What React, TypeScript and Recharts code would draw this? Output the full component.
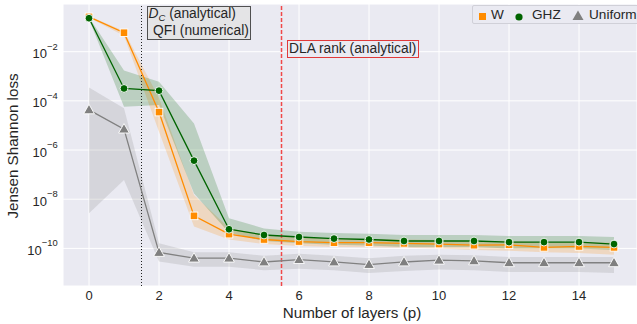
import React from "react";
import {
  ComposedChart,
  Line,
  Area,
  XAxis,
  YAxis,
  CartesianGrid,
  ReferenceLine,
} from "recharts";

const layers = [0, 1, 2, 3, 4, 5, 6, 7, 8, 9, 10, 11, 12, 13, 14, 15];

const wLoss = [2.6e-1, 5.9e-2, 3.5e-5, 2.1e-9, 3.8e-10, 2.3e-10, 1.9e-10, 1.7e-10, 1.7e-10, 1.6e-10, 1.5e-10, 1.35e-10, 1.4e-10, 1.1e-10, 1.2e-10, 1.1e-10];
const wLow = [2.4e-1, 4.5e-2, 5.5e-6, 7.8e-10, 2.3e-10, 1.5e-10, 1.25e-10, 1.15e-10, 1.1e-10, 1.05e-10, 1.0e-10, 8.5e-11, 8e-11, 7e-11, 6.5e-11, 5.5e-11];
const wHigh = [2.8e-1, 7.0e-2, 1.3e-4, 1.5e-8, 6.8e-10, 3.3e-10, 2.8e-10, 2.5e-10, 2.4e-10, 2.3e-10, 2.2e-10, 2.0e-10, 2.0e-10, 1.7e-10, 1.8e-10, 1.7e-10];

const ghzLoss = [2.3e-1, 3.2e-4, 2.6e-4, 3.7e-7, 6.0e-10, 3.5e-10, 2.9e-10, 2.5e-10, 2.3e-10, 2.0e-10, 2.0e-10, 2.0e-10, 1.8e-10, 1.8e-10, 1.8e-10, 1.5e-10];
const ghzLow = [2.1e-1, 5.8e-5, 6.8e-5, 1.7e-8, 4.3e-10, 2.0e-10, 1.6e-10, 1.4e-10, 1.3e-10, 1.15e-10, 1.15e-10, 1.15e-10, 1.0e-10, 1.0e-10, 1.0e-10, 8.5e-11];
const ghzHigh = [2.5e-1, 1.7e-3, 6.0e-4, 1.2e-5, 1.7e-9, 6.5e-10, 4.8e-10, 4.2e-10, 3.9e-10, 3.5e-10, 3.5e-10, 3.5e-10, 3.2e-10, 3.2e-10, 3.2e-10, 2.9e-10];

const uniLoss = [4.3e-5, 7.1e-6, 6.8e-11, 4.0e-11, 4.0e-11, 2.8e-11, 3.5e-11, 2.8e-11, 2.2e-11, 2.8e-11, 3.3e-11, 3.1e-11, 2.6e-11, 2.6e-11, 2.6e-11, 2.6e-11];
const uniLow = [2.7e-9, 6.0e-8, 2.9e-11, 1.8e-11, 1.8e-11, 1.3e-11, 1.5e-11, 1.3e-11, 1.0e-11, 1.2e-11, 1.4e-11, 1.3e-11, 1.1e-11, 1.1e-11, 1.1e-11, 1.0e-11];
const uniHigh = [3.5e-4, 5.0e-5, 1.6e-10, 7.0e-11, 7.0e-11, 5.0e-11, 6.0e-11, 5.0e-11, 4.0e-11, 5.0e-11, 5.5e-11, 5.2e-11, 4.5e-11, 4.5e-11, 4.5e-11, 4.5e-11];

const xTicks = [0, 2, 4, 6, 8, 10, 12, 14];
const yTicks = [1e-10, 1e-8, 1e-6, 1e-4, 1e-2];
const yTickExponents = ["−10", "−8", "−6", "−4", "−2"];

const data = layers.map((p, i) => ({
  p,
  w: wLoss[i],
  ghz: ghzLoss[i],
  uni: uniLoss[i],
  wBand: [wLow[i], wHigh[i]],
  ghzBand: [ghzLow[i], ghzHigh[i]],
  uniBand: [uniLow[i], uniHigh[i]],
}));

const ORANGE = "#ff8c00";
const GREEN = "#006400";
const GRAY = "#808080";
const FONT = "'Liberation Sans', Arial, sans-serif";
const TEXT = "#262626";

const SquareDot = (props: any) => {
  const { cx, cy, index } = props;
  if (cx == null || cy == null) return <g key={`s${index}`} />;
  return <rect key={`s${index}`} x={cx - 3.8} y={cy - 3.8} width={7.6} height={7.6} fill={ORANGE} stroke="#fff" strokeWidth={0.9} />;
};
const CircleDot = (props: any) => {
  const { cx, cy, index } = props;
  if (cx == null || cy == null) return <g key={`c${index}`} />;
  return <circle key={`c${index}`} cx={cx} cy={cy} r={3.9} fill={GREEN} stroke="#fff" strokeWidth={0.9} />;
};
const TriDot = (props: any) => {
  const { cx, cy, index } = props;
  if (cx == null || cy == null) return <g key={`t${index}`} />;
  const pts = `${cx},${cy - 5.6} ${cx - 5.4},${cy + 3.9} ${cx + 5.4},${cy + 3.9}`;
  return <polygon key={`t${index}`} points={pts} fill={GRAY} stroke="#fff" strokeWidth={0.9} />;
};

const YTick = (props: any) => {
  const { y, payload } = props;
  const idx = yTicks.findIndex((t) => Math.abs(Math.log10(t) - Math.log10(payload.value)) < 1e-6);
  const exp = idx >= 0 ? yTickExponents[idx] : "";
  return (
    <text x={57.7} y={y + 6.5} textAnchor="end" fontFamily={FONT} fontSize={13} fill={TEXT}>
      <tspan>10</tspan>
      <tspan dy={-8.5} fontSize={9.4}>{exp}</tspan>
    </text>
  );
};

const XTick = (props: any) => {
  const { x, payload } = props;
  return (
    <text x={x} y={299.7} textAnchor="middle" fontFamily={FONT} fontSize={13} fill={TEXT}>
      {payload.value}
    </text>
  );
};

export default function App() {
  return (
    <div style={{ position: "absolute", left: 0, top: 0, width: 637, height: 324, overflow: "hidden", fontFamily: FONT }}>
      <ComposedChart width={637} height={324} data={data} margin={{ top: 4, right: 0, bottom: 8, left: 0 }}>
        <CartesianGrid fill="#eaeaf2" fillOpacity={1} stroke="#ffffff" strokeWidth={1} />
        <XAxis
          type="number"
          dataKey="p"
          domain={[-0.743, 15.657]}
          ticks={xTicks}
          allowDataOverflow
          tickLine={false}
          axisLine={false}
          height={30}
          tick={<XTick />}
        />
        <YAxis
          type="number"
          scale="log"
          domain={[Math.pow(10, -11.53), Math.pow(10, -0.06)]}
          ticks={yTicks}
          allowDataOverflow
          tickLine={false}
          axisLine={false}
          width={63}
          tick={<YTick />}
        />
        <Area dataKey="wBand" stroke="none" fill={ORANGE} fillOpacity={0.2} isAnimationActive={false} type="linear" />
        <Area dataKey="ghzBand" stroke="none" fill={GREEN} fillOpacity={0.2} isAnimationActive={false} type="linear" />
        <Area dataKey="uniBand" stroke="none" fill={GRAY} fillOpacity={0.2} isAnimationActive={false} type="linear" />
        <ReferenceLine x={1.5} stroke="#222" strokeWidth={1} strokeDasharray="1 2" />
        <ReferenceLine x={5.5} stroke="#f04848" strokeWidth={1.5} strokeDasharray="4 2" />
        <Line dataKey="w" stroke={ORANGE} strokeWidth={1.3} dot={SquareDot} activeDot={false} isAnimationActive={false} type="linear" />
        <Line dataKey="ghz" stroke={GREEN} strokeWidth={1.3} dot={CircleDot} activeDot={false} isAnimationActive={false} type="linear" />
        <Line dataKey="uni" stroke={GRAY} strokeWidth={1.3} dot={TriDot} activeDot={false} isAnimationActive={false} type="linear" />
      </ComposedChart>

      {/* Y axis title */}
      <div
        style={{
          position: "absolute",
          left: 13,
          top: 146,
          transform: "translate(-50%, -50%) rotate(-90deg)",
          whiteSpace: "nowrap",
          fontSize: 15.2,
          lineHeight: "18px",
          color: TEXT,
        }}
      >
        Jensen Shannon loss
      </div>
      {/* X axis title */}
      <div
        style={{
          position: "absolute",
          left: 352,
          top: 313,
          transform: "translate(-50%, -50%)",
          whiteSpace: "nowrap",
          fontSize: 15.2,
          lineHeight: "18px",
          color: TEXT,
        }}
      >
        Number of layers (p)
      </div>

      {/* D_C / QFI box */}
      <div
        style={{
          position: "absolute",
          left: 147,
          top: 6,
          width: 104,
          height: 34,
          boxSizing: "border-box",
          background: "#e4e4e6",
          border: "1px solid #505050",
          fontSize: 13.8,
          color: TEXT,
          whiteSpace: "nowrap",
        }}
      >
        <span style={{ position: "absolute", left: 0.5, top: -1, lineHeight: "16px" }}>
          <i>D</i>
          <span style={{ fontStyle: "italic", fontSize: 9.5, position: "relative", top: 3 }}>C</span> (analytical)
        </span>
        <span style={{ position: "absolute", left: 5, top: 15.5, lineHeight: "16px" }}>QFI (numerical)</span>
      </div>

      {/* DLA rank box */}
      <div
        style={{
          position: "absolute",
          left: 287,
          top: 40,
          width: 132,
          height: 18,
          boxSizing: "border-box",
          background: "#eaeaf2",
          border: "1px solid #e03a3a",
          fontSize: 13.8,
          color: TEXT,
          whiteSpace: "nowrap",
        }}
      >
        <span style={{ position: "absolute", left: 1, top: 0, lineHeight: "16px" }}>DLA rank (analytical)</span>
      </div>

      {/* Legend */}
      <div
        style={{
          position: "absolute",
          left: 472,
          top: 5,
          width: 180,
          height: 19,
          boxSizing: "border-box",
          background: "#eaeaf2",
          border: "1px solid #d0d0d8",
          borderRadius: 2,
          fontSize: 13.6,
          color: TEXT,
          whiteSpace: "nowrap",
        }}
      >
        <svg width={180} height={18} style={{ position: "absolute", left: 0, top: 0 }}>
          <rect x={6} y={7} width={7} height={7} fill={ORANGE} />
          <circle cx={46} cy={11} r={3.6} fill={GREEN} />
          <polygon points="105,4.5 99.5,14 110.5,14" fill={GRAY} />
        </svg>
        <span style={{ position: "absolute", left: 18, top: 0, lineHeight: "17px" }}>W</span>
        <span style={{ position: "absolute", left: 59, top: 0, lineHeight: "17px" }}>GHZ</span>
        <span style={{ position: "absolute", left: 116, top: 0, lineHeight: "17px" }}>Uniform</span>
      </div>
    </div>
  );
}
